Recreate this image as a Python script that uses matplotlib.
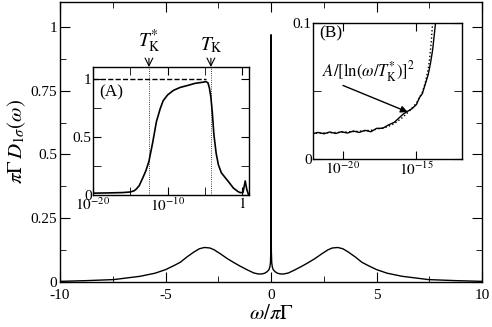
import numpy as np
import matplotlib.pyplot as plt
from matplotlib.ticker import FixedLocator, NullFormatter, NullLocator

plt.rcParams['font.family'] = ['Liberation Serif', 'DejaVu Serif']
plt.rcParams['mathtext.fontset'] = 'stix'
plt.rcParams['axes.linewidth'] = 1.0

# main spectral function
w_main = [-10, -8.7, -7.45, -6.2, -5.5, -5.0, -4.6, -4.3, -4.0, -3.66, -3.4, -3.16,
          -2.9, -2.7, -2.4, -2.07, -1.75, -1.45, -1.1, -0.82, -0.6, -0.45, -0.3,
          -0.19, -0.1, -0.06, -0.03, -0.012, -0.004, 0.0,
          0.004, 0.012, 0.03, 0.06, 0.1, 0.19, 0.3, 0.45, 0.6, 0.82, 1.1, 1.45,
          1.75, 2.07, 2.4, 2.7, 2.9, 3.16, 3.4, 3.66, 4.0, 4.3, 4.6, 5.0, 5.5,
          6.2, 7.45, 8.7, 10]
d_main = [0.002, 0.005, 0.009, 0.022, 0.034, 0.048, 0.064, 0.077, 0.097, 0.117, 0.130, 0.135,
          0.133, 0.126, 0.110, 0.091, 0.075, 0.061, 0.046, 0.035, 0.031, 0.031, 0.034,
          0.040, 0.048, 0.058, 0.075, 0.12, 0.3, 0.97,
          0.3, 0.12, 0.075, 0.058, 0.048, 0.040, 0.034, 0.031, 0.031, 0.035, 0.046, 0.061,
          0.075, 0.091, 0.110, 0.126, 0.133, 0.135, 0.130, 0.117, 0.097, 0.077, 0.064, 0.048, 0.034,
          0.022, 0.009, 0.005, 0.002]

# inset (A): log10(omega) vs normalised value
la_x = [-20, -18, -16, -15, -14.5, -14.2, -13.8, -13.3, -12.9, -12.5, -12.0, -11.5,
        -11.0, -10.6, -10.0, -9.2, -8.3, -7.4, -6.3, -5.2, -4.9, -4.6, -4.4, -4.2,
        -4.0, -3.8, -3.5, -3.2, -2.8, -2.3, -1.8, -1.2, -0.6, -0.3, 0.1, 0.4, 0.6, 0.85]
a_y = [0.015, 0.017, 0.02, 0.025, 0.035, 0.05, 0.08, 0.15, 0.21, 0.29, 0.45, 0.63,
       0.74, 0.81, 0.86, 0.90, 0.925, 0.94, 0.96, 0.97, 0.975, 0.965, 0.92, 0.84,
       0.70, 0.52, 0.36, 0.26, 0.19, 0.15, 0.11, 0.06, 0.03, 0.02, 0.02, 0.12, 0.05, 0.0]
a_flat_x = [-20, -4.9]
a_flat_y = [1.0, 1.0]
log_tk_star = -12.5
log_tk = -4.2

# inset (B): low-energy tail, numerical data and fit
lb_x = [-22.1, -21.7, -21.3, -20.9, -20.5, -20.1, -19.7, -19.3, -18.9, -18.5, -18.1,
        -17.7, -17.3, -16.9, -16.5, -16.2, -15.9, -15.6, -15.3, -15.0, -14.8, -14.6,
        -14.4, -14.2, -14.05, -13.9, -13.8, -13.7]
b_y = [0.0185, 0.0195, 0.0185, 0.0198, 0.0187, 0.020, 0.019, 0.0205, 0.0195, 0.021, 0.020,
       0.0225, 0.0225, 0.025, 0.027, 0.030, 0.033, 0.035, 0.037, 0.040, 0.045, 0.048,
       0.055, 0.062, 0.070, 0.080, 0.090, 0.100]
lfit_x = [-22.1, -21.0, -20.0, -19.0, -18.0, -17.0, -16.5, -16.0, -15.5, -15.0, -14.6,
          -14.4, -14.2, -14.1, -14.0, -13.9]
fit_y = [0.0187, 0.0192, 0.0197, 0.0203, 0.0212, 0.0235, 0.026, 0.030, 0.035, 0.041, 0.049,
         0.056, 0.066, 0.074, 0.085, 0.100]

fig = plt.figure(figsize=(4.92, 3.27), dpi=100)

ax = fig.add_axes([0.122, 0.138, 0.858, 0.857])
ax.plot(w_main, d_main, color='black', lw=1.0)
ax.set_xlim(-10, 10)
ax.set_ylim(0, 1.1)
ax.xaxis.set_major_locator(FixedLocator([-10, -5, 0, 5, 10]))
ax.set_xticklabels(['-10', '-5', '0', '5', '10'])
ax.xaxis.set_minor_locator(FixedLocator([-7.5, -2.5, 2.5, 7.5]))
ax.yaxis.set_major_locator(FixedLocator([0, 0.25, 0.5, 0.75, 1]))
ax.set_yticklabels(['0', '0.25', '0.5', '0.75', '1'])
ax.yaxis.set_minor_locator(FixedLocator([0.125, 0.375, 0.625, 0.875]))
ax.tick_params(which='both', direction='in', top=True, right=True, labelsize=11)
ax.tick_params(axis='y', pad=2)
ax.tick_params(axis='x', pad=5)
ax.tick_params(which='major', length=7)
ax.tick_params(which='minor', length=4)
ax.set_xlabel(r'$\omega/\pi\Gamma$', fontsize=15, labelpad=2)
ax.set_ylabel(r'$\pi\Gamma\, D_{1\sigma}(\omega)$', fontsize=15, labelpad=2)

# inset A
axa = fig.add_axes([0.189, 0.404, 0.317, 0.391])
axa.set_xscale('log')
axa.plot(10.0 ** np.array(la_x), a_y, color='black', lw=1.2)
axa.plot(10.0 ** np.array(a_flat_x), a_flat_y, color='black', lw=1.0, ls='--')
for lt in [log_tk_star, log_tk]:
    axa.axvline(10.0 ** lt, color='black', lw=0.6, ls=':')
axa.set_xlim(1e-20, 10.0 ** 0.9)
axa.set_ylim(0, 1.1)
axa.xaxis.set_major_locator(FixedLocator([1e-20, 1e-10, 1]))
axa.set_xticklabels([r'$10^{-20}$', r'$10^{-10}$', r'$1$'])
axa.xaxis.set_minor_locator(FixedLocator([1e-15, 1e-5]))
axa.xaxis.set_minor_formatter(NullFormatter())
axa.yaxis.set_major_locator(FixedLocator([0, 0.5, 1]))
axa.set_yticklabels(['0', '0.5', '1'])
axa.yaxis.set_minor_locator(FixedLocator([0.25, 0.75]))
axa.tick_params(which='both', direction='in', top=True, right=True, labelsize=11, pad=1)
axa.tick_params(which='major', length=6)
axa.tick_params(which='minor', length=6)
axa.text(0.04, 0.80, '(A)', transform=axa.transAxes, fontsize=12.5, va='center')
for lt, lab in [(log_tk_star, r'$T_{\rm K}^{*}$'), (log_tk, r'$T_{\rm K}$')]:
    axa.annotate(lab, xy=(10.0 ** lt, 1.1), xytext=(10.0 ** lt, 1.2),
                 ha='center', va='bottom', fontsize=14, annotation_clip=False,
                 arrowprops=dict(arrowstyle='->', lw=0.8, color='black',
                                 shrinkA=0, shrinkB=0))

# inset B
axb = fig.add_axes([0.636, 0.514, 0.303, 0.416])
axb.set_xscale('log')
axb.plot(10.0 ** np.array(lb_x), b_y, color='black', lw=1.0)
axb.plot(10.0 ** np.array(lfit_x), fit_y, color='black', lw=1.0, ls=':')
axb.set_xlim(10.0 ** -22.05, 10.0 ** -11.9)
axb.set_ylim(0, 0.1)
axb.xaxis.set_major_locator(FixedLocator([1e-20, 1e-15]))
axb.set_xticklabels([r'$10^{-20}$', r'$10^{-15}$'])
axb.xaxis.set_minor_locator(NullLocator())
axb.yaxis.set_major_locator(FixedLocator([0, 0.1]))
axb.set_yticklabels(['0', '0.1'])
axb.yaxis.set_minor_locator(FixedLocator([0.05]))
axb.tick_params(which='both', direction='in', top=True, right=True, labelsize=11, pad=1)
axb.tick_params(which='major', length=6)
axb.tick_params(which='minor', length=6)
axb.text(0.04, 0.92, '(B)', transform=axb.transAxes, fontsize=12.5, va='center')
axb.text(10.0 ** -18.25, 0.064, r'$A/[\ln(\omega/T_{\rm K}^{*})]^2$',
         ha='center', va='center', fontsize=12)
axb.annotate('', xy=(10.0 ** -15.6, 0.0345), xytext=(10.0 ** -20.0, 0.054),
             arrowprops=dict(arrowstyle='-|>', lw=1.0, color='black',
                             shrinkA=0, shrinkB=0, mutation_scale=10))

fig.savefig('out.png', dpi=100)
